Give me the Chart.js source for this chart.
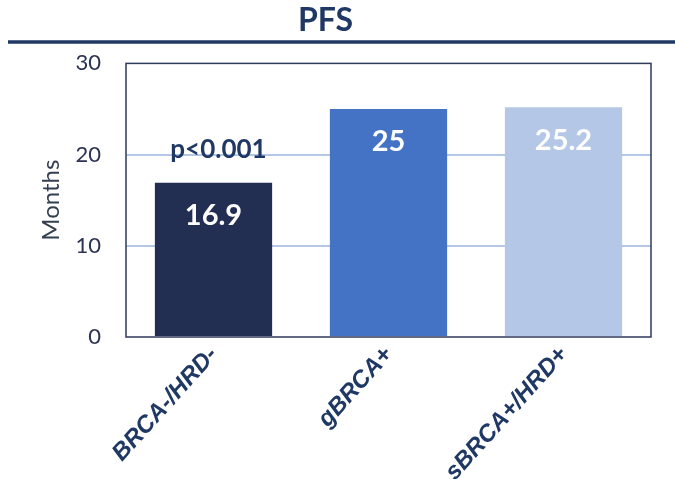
<!DOCTYPE html>
<html>
<head>
<meta charset="utf-8">
<script src="https://cdn.jsdelivr.net/npm/chart.js@4"></script>
<style>
    html, body { margin: 0; padding: 0; background: #ffffff; }
    #wrap { width: 675px; height: 479px; }
</style>
</head>
<body>
<div id="wrap"><canvas id="pfs-chart"></canvas></div>
<script>
// Chart data
const groups = ['BRCA-/HRD-', 'gBRCA+', 'sBRCA+/HRD+'];
const pfsMonths = [16.9, 25, 25.2];
const valueLabels = ['16.9', '25', '25.2'];
const barColors = ['#222E52', '#4472C4', '#B4C7E7'];
const yTicks = [0, 10, 20, 30];
const pValueText = 'p<0.001';

const NAVY = '#1F3864';

/**
 * Draws the rule under the title, the plot frame and the labels on the bars
 */
const decorations = {
    id: 'decorations',
    afterDatasetsDraw(chart) {
        const ctx = chart.ctx;
        const area = chart.chartArea;
        const meta = chart.getDatasetMeta(0);

        ctx.save();
        // frame round the plot area
        ctx.strokeStyle = '#2E3A5C';
        ctx.lineWidth = 1.5;
        ctx.strokeRect(area.left, area.top, area.right - area.left, area.bottom - area.top);

        // rule under the title
        ctx.strokeStyle = NAVY;
        ctx.lineWidth = 3.5;
        ctx.beginPath();
        ctx.moveTo(8, 42);
        ctx.lineTo(675, 42);
        ctx.stroke();

        // values inside the bars
        ctx.fillStyle = '#ffffff';
        ctx.font = 'bold 29px Lato';
        ctx.textAlign = 'center';
        ctx.textBaseline = 'middle';
        meta.data.forEach((bar, i) => {
            ctx.fillText(valueLabels[i], bar.x, bar.y + 33);
        });

        // p value above the first bar
        ctx.fillStyle = NAVY;
        ctx.font = 'bold 26px Lato';
        ctx.fillText(pValueText, meta.data[0].x + 5, meta.data[0].y - 33);
        ctx.restore();
    }
};

new Chart(document.getElementById('pfs-chart'), {
    type: 'bar',
    data: {
        labels: groups,
        datasets: [{
            data: pfsMonths,
            backgroundColor: barColors,
            borderWidth: 0,
            categoryPercentage: 1,
            barPercentage: 0.67
        }]
    },
    options: {
        responsive: true,
        maintainAspectRatio: false,
        animation: false,
        layout: {
            padding: { left: 0, right: 24, top: 0, bottom: 0 }
        },
        plugins: {
            legend: { display: false },
            tooltip: { enabled: false },
            title: {
                display: true,
                text: 'PFS',
                color: NAVY,
                font: { family: 'Lato', size: 32, weight: 'bold' },
                padding: { top: 1, bottom: 24 }
            }
        },
        scales: {
            x: {
                grid: { display: false, drawTicks: false },
                border: { display: false },
                ticks: {
                    color: NAVY,
                    font: { family: 'Liberation Sans', size: 24, weight: 'bold', style: 'italic' },
                    minRotation: 48,
                    maxRotation: 48,
                    padding: 4
                },
                afterFit(scale) { scale.height = 142; }
            },
            y: {
                min: 0,
                max: 30,
                afterBuildTicks(scale) {
                    scale.ticks = yTicks.map(v => ({ value: v }));
                },
                grid: {
                    color: (c) => (c.tick && (c.tick.value === 10 || c.tick.value === 20)) ? '#B4C7E7' : 'rgba(0,0,0,0)',
                    lineWidth: 2,
                    drawTicks: false
                },
                border: { display: false },
                ticks: {
                    color: '#2B3353',
                    font: { family: 'Lato', size: 22 },
                    padding: 25
                },
                title: {
                    display: true,
                    text: 'Months',
                    color: '#333F50',
                    font: { family: 'Lato', size: 24 },
                    padding: { top: 37, bottom: 0 }
                },
                afterFit(scale) { scale.width = 126; }
            }
        }
    },
    plugins: [decorations]
});
</script>
</body>
</html>
